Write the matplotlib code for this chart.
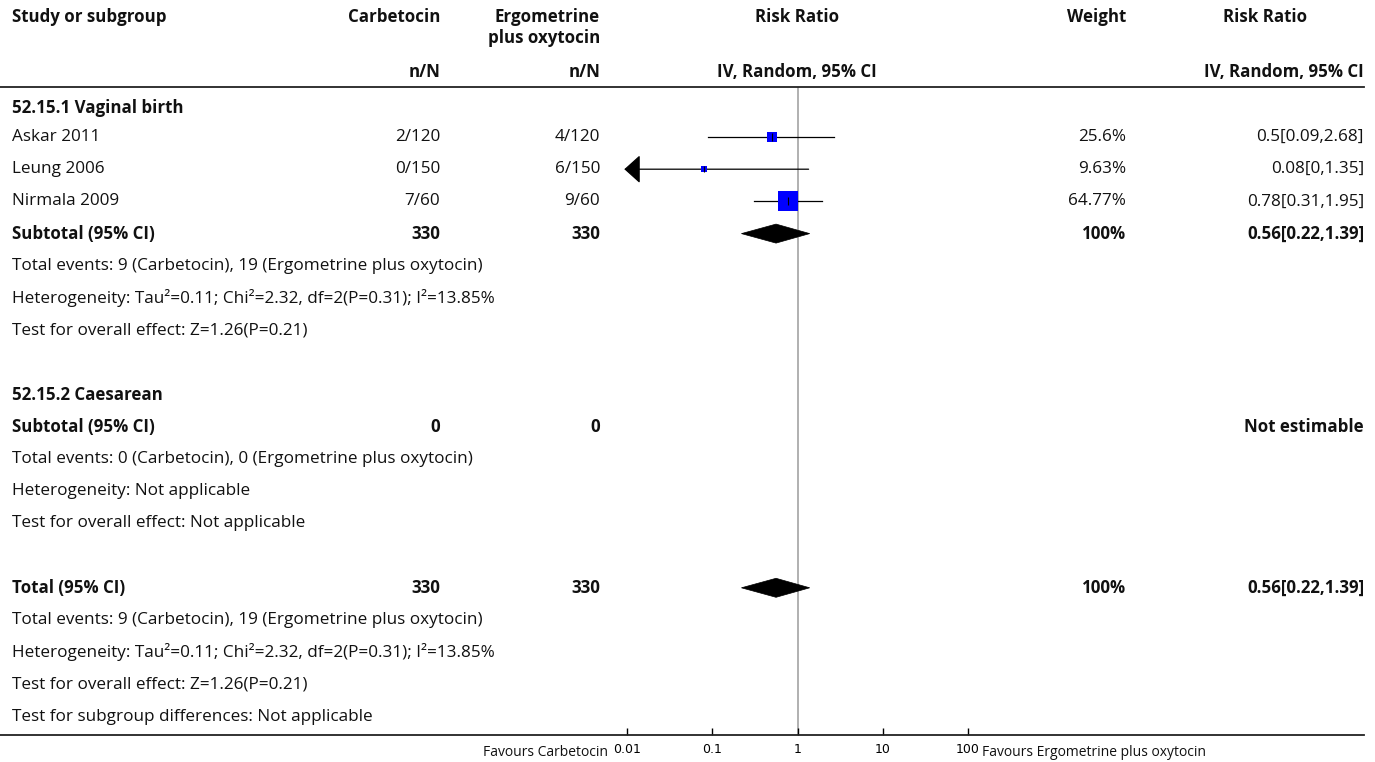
import numpy as np
import matplotlib.pyplot as plt
from matplotlib.transforms import blended_transform_factory
from matplotlib.patches import Polygon
from matplotlib.lines import Line2D

plt.rcParams['font.family'] = ['Open Sans', 'DejaVu Sans']

# data
studies = ['Askar 2011', 'Leung 2006', 'Nirmala 2009']
carb_events = [2, 0, 7]
carb_total = [120, 150, 60]
erg_events = [4, 6, 9]
erg_total = [120, 150, 60]
rr = [0.5, 0.08, 0.78]
rr_lo = [0.09, 0, 0.31]
rr_hi = [2.68, 1.35, 1.95]
weights = [25.6, 9.63, 64.77]

sub_rr, sub_lo, sub_hi = 0.56, 0.22, 1.39
sub_n_carb, sub_n_erg = 330, 330
ticks = [0.01, 0.1, 1, 10, 100]
tick_labels = ['0.01', '0.1', '1', '10', '100']

W, H = 1375, 762
fig = plt.figure(figsize=(W / 100, H / 100), dpi=100)

# forest axes spans pixel columns 600-980, rows 87-735
ax = fig.add_axes([600 / W, 1 - 735 / H, 380 / W, (735 - 87) / H])
ax.set_xscale('log')
ax.set_xlim(10 ** (-2 - 27 / 85.25), 10 ** (2 + 12 / 85.25))
# row index -> y, row 1 at pixel 137, spacing 32.2 px
ax.set_ylim(1 + (735 - 137) / 32.2, 1 + (87 - 137) / 32.2)
for s in ax.spines.values():
    s.set_visible(False)
ax.set_yticks([])
ax.set_xticks(ticks)
ax.set_xticklabels(tick_labels, fontfamily='DejaVu Sans')
ax.xaxis.set_minor_locator(plt.NullLocator())
ax.tick_params(axis='x', direction='in', length=5, width=1, labelsize=9, pad=6)
ax.patch.set_alpha(0)

tr = blended_transform_factory(fig.transFigure, ax.transData)
FS = 12.3
FS_B = 12.2


def txt(px, row, s, ha='left', bold=False, size=None):
    if size is None:
        size = FS_B if bold else FS
    ax.text(px / W, row, s, transform=tr, ha=ha, va='center', clip_on=False,
            fontsize=size, fontweight='bold' if bold else 'normal', color='#111111')


# header
hdr_row = 1 + (17 - 137) / 32.2
txt(12, hdr_row, 'Study or subgroup', bold=True)
txt(440, hdr_row, 'Carbetocin', ha='right', bold=True)
txt(600, hdr_row, 'Ergometrine', ha='right', bold=True)
txt(600, 1 + (38 - 137) / 32.2, 'plus oxytocin', ha='right', bold=True)
txt(797, hdr_row, 'Risk Ratio', ha='center', bold=True)
txt(1126, hdr_row, 'Weight', ha='right', bold=True)
txt(1265, hdr_row, 'Risk Ratio', ha='center', bold=True)
nn_row = 1 + (72 - 137) / 32.2
txt(440, nn_row, 'n/N', ha='right', bold=True)
txt(600, nn_row, 'n/N', ha='right', bold=True)
txt(797, nn_row, 'IV, Random, 95% CI', ha='center', bold=True)
txt(1364, nn_row, 'IV, Random, 95% CI', ha='right', bold=True)

# horizontal rules
for row in [ax.get_ylim()[1], ax.get_ylim()[0]]:
    fig.add_artist(Line2D([0, 1364 / W], [row, row], transform=tr, color='#222222', lw=1.3))

# reference line at 1
ax.axvline(1, color='#aaaaaa', lw=1.3, zorder=0)

# subgroup 1
txt(12, 0.1, '52.15.1 Vaginal birth', bold=True)
for i, name in enumerate(studies):
    row = 1 + i
    txt(12, row, name)
    txt(440, row, f'{carb_events[i]}/{carb_total[i]}', ha='right')
    txt(600, row, f'{erg_events[i]}/{erg_total[i]}', ha='right')
    txt(1126, row, f'{weights[i]:g}%', ha='right')
    txt(1364, row, f'{rr[i]:g}[{rr_lo[i]:g},{rr_hi[i]:g}]', ha='right')
    side = 2.5 + 0.285 * weights[i]
    if rr_lo[i] > 0:
        ax.plot([rr_lo[i], rr_hi[i]], [row, row], color='black', lw=0.9, zorder=2)
    else:
        ax.annotate('', xy=(0.0093, row), xytext=(rr_hi[i], row),
                    arrowprops=dict(arrowstyle='-|>,head_length=10,head_width=9',
                                    mutation_scale=1, color='black', lw=0.9,
                                    shrinkA=0, shrinkB=0))
    ax.plot(rr[i], row, marker='s', ms=side * 0.72, mfc='#0000ff', mec='#0000ff',
            mew=0, zorder=3)
    ax.plot(rr[i], row, marker='|', ms=min(side, 8) * 0.72, color='black', mew=0.8,
            zorder=4)


def diamond(row):
    h = 9.5 / 32.2
    ax.add_patch(Polygon([(sub_lo, row), (sub_rr, row - h), (sub_hi, row), (sub_rr, row + h)],
                         closed=True, fc='black', ec='black', lw=0.5, zorder=3))


txt(12, 4, 'Subtotal (95% CI)', bold=True)
txt(440, 4, str(sub_n_carb), ha='right', bold=True)
txt(600, 4, str(sub_n_erg), ha='right', bold=True)
txt(1126, 4, '100%', ha='right', bold=True)
txt(1364, 4, f'{sub_rr:g}[{sub_lo:g},{sub_hi:g}]', ha='right', bold=True)
diamond(4)

events_line = 'Total events: 9 (Carbetocin), 19 (Ergometrine plus oxytocin)'
het_line = 'Heterogeneity: Tau\u00b2=0.11; Chi\u00b2=2.32, df=2(P=0.31); I\u00b2=13.85%'
test_line = 'Test for overall effect: Z=1.26(P=0.21)'
txt(12, 5, events_line)
txt(12, 6, het_line)
txt(12, 7, test_line)

# subgroup 2
txt(12, 9, '52.15.2 Caesarean', bold=True)
txt(12, 10, 'Subtotal (95% CI)', bold=True)
txt(440, 10, '0', ha='right', bold=True)
txt(600, 10, '0', ha='right', bold=True)
txt(1364, 10, 'Not estimable', ha='right', bold=True)
txt(12, 11, 'Total events: 0 (Carbetocin), 0 (Ergometrine plus oxytocin)')
txt(12, 12, 'Heterogeneity: Not applicable')
txt(12, 13, 'Test for overall effect: Not applicable')

# overall
txt(12, 15, 'Total (95% CI)', bold=True)
txt(440, 15, str(sub_n_carb), ha='right', bold=True)
txt(600, 15, str(sub_n_erg), ha='right', bold=True)
txt(1126, 15, '100%', ha='right', bold=True)
txt(1364, 15, f'{sub_rr:g}[{sub_lo:g},{sub_hi:g}]', ha='right', bold=True)
diamond(15)
txt(12, 16, events_line)
txt(12, 17, het_line)
txt(12, 18, test_line)
txt(12, 19, 'Test for subgroup differences: Not applicable')

fav_row = 1 + (753 - 137) / 32.2
txt(608, fav_row, 'Favours Carbetocin', ha='right', size=10)
txt(982, fav_row, 'Favours Ergometrine plus oxytocin', size=10)

fig.savefig('out.png', dpi=100)
